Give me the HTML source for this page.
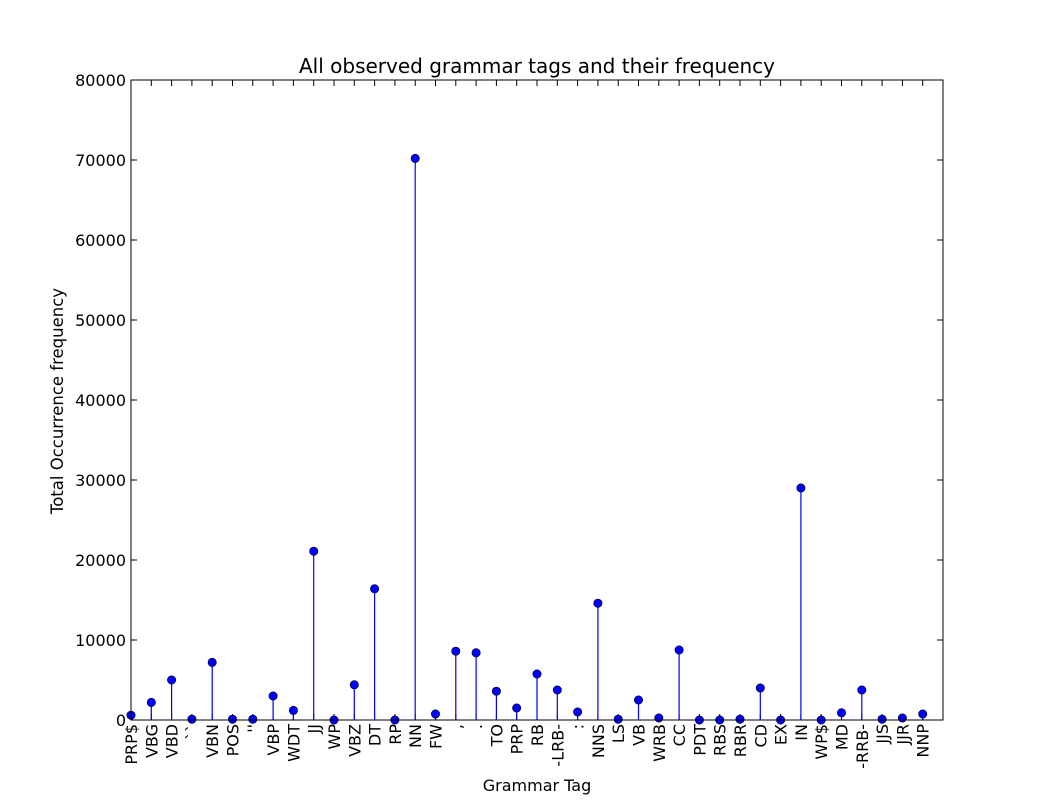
<!DOCTYPE html>
<html><head><meta charset="utf-8"><style>body{margin:0;background:#fff}svg{display:block}text{font-family:"DejaVu Sans","Liberation Sans",sans-serif}</style></head>
<body>
<svg id="chart" width="1047" height="800" xmlns="http://www.w3.org/2000/svg"></svg>
<script>
const categories=["PRP$","VBG","VBD","``","VBN","POS","''","VBP","WDT","JJ","WP","VBZ","DT","RP","NN","FW",",",".","TO","PRP","RB","-LRB-",":","NNS","LS","VB","WRB","CC","PDT","RBS","RBR","CD","EX","IN","WP$","MD","-RRB-","JJS","JJR","NNP"];
const counts=[600,2200,5000,100,7200,100,100,3000,1200,21100,0,4400,16400,0,70200,750,8600,8400,3600,1500,5750,3750,1000,14600,100,2500,250,8750,0,0,100,4000,0,29000,0,900,3750,100,250,750];
const yTicks=[0,10000,20000,30000,40000,50000,60000,70000,80000];
const L=131,R=943,T=80,B=720,yMax=80000,xMax=40;
const svg=document.getElementById('chart');const NS='http://www.w3.org/2000/svg';
function xs(i){return L+i*(R-L)/xMax}
function ys(v){return B-v*(B-T)/yMax}
function mk(tag,a,p){const e=document.createElementNS(NS,tag);for(const k in a)e.setAttribute(k,a[k]);(p||svg).appendChild(e);return e}
let e=mk('text',{x:537,y:73,'font-size':20,'text-anchor':'middle'});e.textContent='All observed grammar tags and their frequency';


yTicks.forEach(v=>{const y=ys(v);
 mk('line',{x1:L,x2:L+6,y1:y,y2:y,stroke:'#000'});mk('line',{x1:R,x2:R-6,y1:y,y2:y,stroke:'#000'});
 const t=mk('text',{x:L-5,y:y+6,'font-size':16,'text-anchor':'end'});t.textContent=v;
 
 });
categories.forEach((c,i)=>{const x=xs(i);
 mk('line',{x1:x,x2:x,y1:B,y2:B-6,stroke:'#000'});mk('line',{x1:x,x2:x,y1:T,y2:T+6,stroke:'#000'});
 const t=mk('text',{transform:`translate(${x+6},${B+4}) rotate(-90)`,'font-size':16,'text-anchor':'end'});t.textContent=c;
 
 
 const s=mk('line',{x1:x,x2:x,y1:B,y2:ys(counts[i]),stroke:'#0000ff','stroke-width':1.2});
 
 
 const m=mk('circle',{cx:x,cy:ys(counts[i]),r:4.2,fill:'#0000ff',stroke:'#000','stroke-width':0.6});
 
 });
const f=mk('rect',{x:L,y:T,width:R-L,height:B-T,fill:'none',stroke:'#000','stroke-width':1});


e=mk('text',{x:537,y:791,'font-size':16,'text-anchor':'middle'});e.textContent='Grammar Tag';


e=mk('text',{transform:'translate(63,401) rotate(-90)','font-size':16.5,'text-anchor':'middle'});e.textContent='Total Occurrence frequency';


</script>
</body></html>
